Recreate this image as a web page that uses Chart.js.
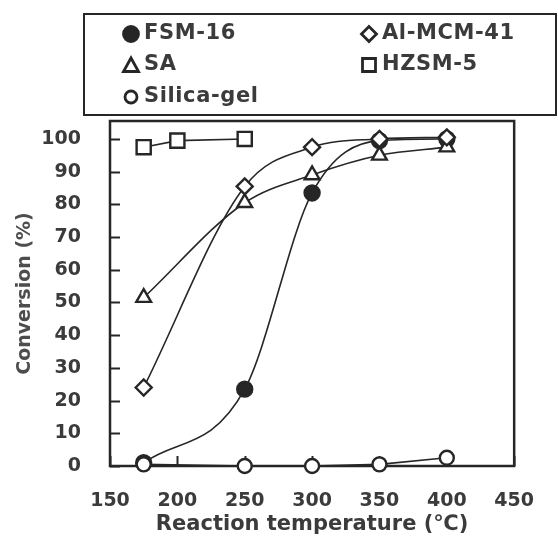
<!DOCTYPE html>
<html>
<head>
<meta charset="utf-8">
<script src="https://cdn.jsdelivr.net/npm/chart.js@4"></script>
<style>
  html, body { margin: 0; padding: 0; background: #fff; }
  #wrap { width: 558px; height: 538px; position: relative; }
</style>
</head>
<body>
<div id="wrap"><canvas id="conversionChart"></canvas></div>
<script>
// temperatures (°C) and conversion (%)
const fsmTemp = [175, 250, 300, 350, 400];
const fsmConv = [1, 23.5, 83.5, 99.5, 100];

const mcmTemp = [175, 250, 300, 350, 400];
const mcmConv = [24, 85.5, 97.5, 100, 100.5];

const saTemp = [175, 250, 300, 350, 400];
const saConv = [51.5, 80.5, 89, 95, 97.5];

const hzsmTemp = [175, 200, 250];
const hzsmConv = [97.5, 99.5, 100];

const silicaTemp = [175, 250, 300, 350, 400];
const silicaConv = [0.5, 0, 0, 0.5, 2.5];

const xTicks = [150, 200, 250, 300, 350, 400, 450];
const yTicks = [0, 10, 20, 30, 40, 50, 60, 70, 80, 90, 100];

const INK = "#262626";
const TEXT = "#3b3b3b";
const FONT = "'DejaVu Sans', 'Liberation Sans', sans-serif";

function toPoints(xs, ys) {
  return xs.map((x, i) => ({ x: x, y: ys[i] }));
}

// legend layout: [dataset label, column, row]
const legendSlots = [
  ["FSM-16", 0, 0],
  ["Al-MCM-41", 1, 0],
  ["SA", 0, 1],
  ["HZSM-5", 1, 1],
  ["Silica-gel", 0, 2]
];

const legendBox = {
  id: "legendBox",
  afterDraw(chart) {
    const ctx = chart.ctx;
    ctx.save();
    ctx.strokeStyle = INK;
    ctx.lineWidth = 2;
    ctx.strokeRect(84, 14, 472, 101);

    const colX = [131, 369];
    const rowY = [34, 65, 97];
    ctx.textBaseline = "middle";
    legendSlots.forEach(([label, c, r]) => {
      const ds = chart.data.datasets.find(d => d.label === label);
      const x = colX[c], y = rowY[r];
      ctx.beginPath();
      ctx.lineWidth = 2.8;
      ctx.strokeStyle = INK;
      ctx.fillStyle = "#fff";
      switch (ds.pointStyle) {
        case "circle": ctx.arc(x, y, ds.pointBackgroundColor === INK ? 7.5 : 6, 0, Math.PI * 2); break;
        case "rectRot":
          ctx.moveTo(x, y - 7.5); ctx.lineTo(x + 7.5, y); ctx.lineTo(x, y + 7.5); ctx.lineTo(x - 7.5, y); ctx.closePath(); break;
        case "triangle":
          ctx.moveTo(x, y - 7); ctx.lineTo(x + 7.5, y + 6.5); ctx.lineTo(x - 7.5, y + 6.5); ctx.closePath(); break;
        case "rect": ctx.rect(x - 6.5, y - 6.5, 13, 13); break;
      }
      if (ds.pointBackgroundColor === INK) ctx.fillStyle = INK;
      ctx.fill();
      ctx.stroke();
      ctx.fillStyle = TEXT;
      ctx.font = "bold 21px " + FONT;
      ctx.letterSpacing = "0.6px";
      ctx.fillText(label, x + 13, y);
    });
    ctx.restore();
  }
};

// plot frame and inward tick marks
const frameTicks = {
  id: "frameTicks",
  beforeDatasetsDraw(chart) {
    const { ctx, chartArea: a, scales } = chart;
    ctx.save();
    ctx.strokeStyle = INK;
    ctx.lineWidth = 2;
    ctx.beginPath();
    yTicks.forEach(v => {
      const py = Math.round(scales.y.getPixelForValue(v)) + 0.5;
      ctx.moveTo(a.left, py);
      ctx.lineTo(a.left + 10, py);
    });
    xTicks.forEach(v => {
      const px = Math.round(scales.x.getPixelForValue(v)) + 0.5;
      ctx.moveTo(px, a.bottom);
      ctx.lineTo(px, a.bottom - 10);
    });
    ctx.stroke();
    ctx.lineWidth = 2.5;
    ctx.strokeRect(a.left, a.top, a.right - a.left, a.bottom - a.top);
    ctx.restore();
  }
};

function series(label, xs, ys, style, radius, fill, order, smooth) {
  return {
    label: label,
    data: toPoints(xs, ys),
    borderColor: INK,
    borderWidth: 1.6,
    pointStyle: style,
    pointRadius: radius,
    pointBorderWidth: 2.4,
    pointBorderColor: INK,
    pointBackgroundColor: fill,
    cubicInterpolationMode: smooth ? "monotone" : "default",
    tension: 0,
    fill: false,
    clip: false,
    order: order
  };
}

new Chart(document.getElementById("conversionChart").getContext("2d"), {
  type: "line",
  data: {
    datasets: [
      series("Silica-gel", silicaTemp, silicaConv, "circle", 7, "#fff", 0, false),
      series("Al-MCM-41", mcmTemp, mcmConv, "rectRot", 8, "#fff", 1, true),
      series("SA", saTemp, saConv, "triangle", 8.5, "#fff", 2, true),
      series("FSM-16", fsmTemp, fsmConv, "circle", 7.5, INK, 3, true),
      series("HZSM-5", hzsmTemp, hzsmConv, "rect", 10, "#fff", 4, false)
    ]
  },
  options: {
    responsive: true,
    maintainAspectRatio: false,
    animation: false,
    layout: { padding: { top: 121, right: 23, left: 0, bottom: 0 } },
    plugins: {
      legend: { display: false },
      tooltip: { enabled: false }
    },
    scales: {
      x: {
        type: "linear",
        min: 150,
        max: 450,
        afterBuildTicks: s => { s.ticks = xTicks.map(v => ({ value: v })); },
        afterFit: s => { s.height = 72; },
        grid: { display: false, drawTicks: false },
        border: { display: false },
        ticks: { padding: 24, color: TEXT, font: { family: FONT, size: 19, weight: "bold" } },
        title: {
          display: true,
          text: "Reaction temperature (℃)",
          color: TEXT,
          font: { family: FONT, size: 21, weight: "bold" },
          padding: { top: 0, bottom: 1 }
        }
      },
      y: {
        type: "linear",
        min: 0,
        max: 105.5,
        afterBuildTicks: s => { s.ticks = yTicks.map(v => ({ value: v })); },
        afterFit: s => { s.width = 110; },
        grid: { display: false, drawTicks: false },
        border: { display: false },
        ticks: { padding: 29, color: TEXT, font: { family: FONT, size: 19, weight: "bold" } },
        title: {
          display: true,
          text: "Conversion (%)",
          color: "#4d4d4d",
          font: { family: FONT, size: 19, weight: "bold" },
          padding: { top: 14, bottom: 0 }
        }
      }
    }
  },
  plugins: [frameTicks, legendBox]
});
</script>
</body>
</html>
